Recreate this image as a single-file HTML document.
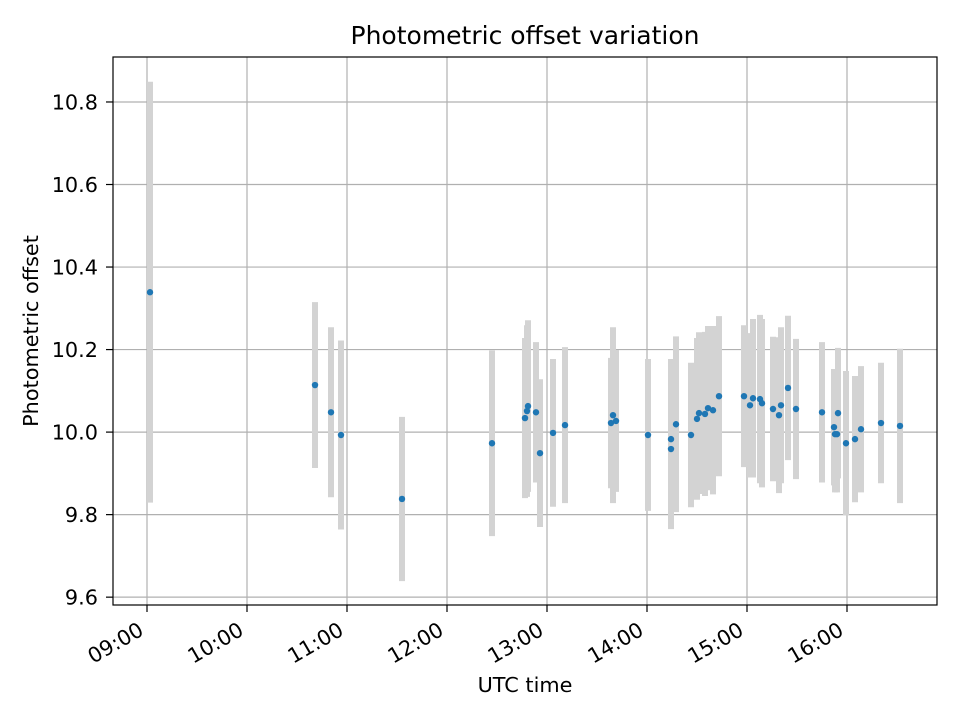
<!DOCTYPE html>
<html><head><meta charset="utf-8"><style>
body{margin:0;background:#fff}
svg text{font-family:"DejaVu Sans","Liberation Sans",sans-serif;fill:#000}
</style></head><body>
<svg id="chart" width="960" height="720" xmlns="http://www.w3.org/2000/svg">
<rect width="960" height="720" fill="#fff"/>
<g id="grid"></g><g id="bars"></g><g id="pts"></g><g id="axes"></g>
<text x="525" y="44" text-anchor="middle" font-size="25">Photometric offset variation</text>
<text x="525" y="692" text-anchor="middle" font-size="20.8">UTC time</text>
<text transform="translate(38,331) rotate(-90)" text-anchor="middle" font-size="20.8">Photometric offset</text>
</svg>
<script>
const times = [9.03,10.68,10.84,10.94,11.55,12.45,12.78,12.80,12.81,12.89,12.93,13.06,13.18,13.64,13.66,13.69,14.01,14.24,14.24,14.29,14.44,14.50,14.52,14.58,14.61,14.66,14.72,14.97,15.03,15.06,15.13,15.15,15.26,15.32,15.34,15.41,15.49,15.75,15.87,15.88,15.90,15.91,15.99,16.08,16.14,16.34,16.53];
const offsets = [10.339,10.114,10.048,9.993,9.838,9.973,10.034,10.051,10.063,10.048,9.949,9.998,10.017,10.022,10.041,10.027,9.993,9.983,9.959,10.019,9.993,10.032,10.046,10.044,10.058,10.053,10.087,10.087,10.065,10.082,10.080,10.070,10.056,10.041,10.065,10.107,10.056,10.048,10.012,9.995,9.995,10.046,9.973,9.983,10.007,10.022,10.015];
const errors = [0.510,0.201,0.206,0.229,0.199,0.225,0.194,0.208,0.208,0.170,0.179,0.179,0.189,0.158,0.213,0.172,0.184,0.194,0.194,0.213,0.175,0.196,0.196,0.199,0.199,0.204,0.194,0.172,0.175,0.192,0.204,0.204,0.175,0.189,0.189,0.175,0.170,0.170,0.141,0.141,0.141,0.158,0.175,0.153,0.153,0.146,0.187];
const yTicks = [9.6,9.8,10.0,10.2,10.4,10.6,10.8];
const xTicks = [9,10,11,12,13,14,15,16];
const xTickLabels = ["09:00","10:00","11:00","12:00","13:00","14:00","15:00","16:00"];

const L=113,R=937,T=57,B=605;
const xMin=8.66,xMax=16.90,yMin=9.581,yMax=10.909;
const xs=h=>L+(h-xMin)/(xMax-xMin)*(R-L);
const ys=v=>B-(v-yMin)/(yMax-yMin)*(B-T);
const NS="http://www.w3.org/2000/svg";
function mk(tag,attrs,parent){const e=document.createElementNS(NS,tag);for(const k in attrs)e.setAttribute(k,attrs[k]);parent.appendChild(e);return e;}
const grid=document.getElementById('grid'),bars=document.getElementById('bars'),pts=document.getElementById('pts'),axes=document.getElementById('axes');
yTicks.forEach(v=>{const y=ys(v);
 const g=mk('line',{x1:L,x2:R,y1:y,y2:y,stroke:'#b0b0b0','stroke-width':1.2},grid);
 
 
 mk('line',{x1:L-7,x2:L,y1:y,y2:y,stroke:'#000','stroke-width':1.2},axes);
 const t=mk('text',{x:L-15,y:y+7.5,'text-anchor':'end','font-size':20.8},axes);t.textContent=v.toFixed(1);
 
 
});
xTicks.forEach((h,i)=>{const x=xs(h);
 const g=mk('line',{x1:x,x2:x,y1:T,y2:B,stroke:'#b0b0b0','stroke-width':1.2},grid);
 
 
 mk('line',{x1:x,x2:x,y1:B,y2:B+7,stroke:'#000','stroke-width':1.2},axes);
 const t=mk('text',{transform:`translate(${x-2},${B+29}) rotate(-30)`,'text-anchor':'end','font-size':20.8},axes);t.textContent=xTickLabels[i];
 
 
});
times.forEach((h,i)=>{const x=xs(h);
 const b=mk('line',{x1:x,x2:x,y1:ys(offsets[i]+errors[i]),y2:ys(offsets[i]-errors[i]),stroke:'#d3d3d3','stroke-width':6},bars);
 
 
});
times.forEach((h,i)=>{
 const c=mk('circle',{cx:xs(h),cy:ys(offsets[i]),r:3.2,fill:'#1f77b4'},pts);
 
 
});
const f=mk('rect',{x:L,y:T,width:R-L,height:B-T,fill:'none',stroke:'#000','stroke-width':1.2},axes);


</script>
</body></html>
